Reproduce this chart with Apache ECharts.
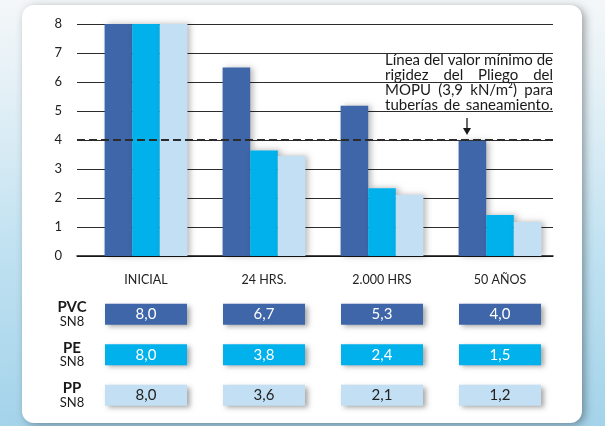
<!DOCTYPE html>
<html><head><meta charset="utf-8">
<script src="https://cdn.jsdelivr.net/npm/echarts@6/dist/echarts.min.js"></script>
<style>html,body{margin:0;padding:0;background:#fff;}#c{width:605px;height:426px;}</style>
</head><body><div id="c"></div>
<script>
const categories = ['INICIAL', '24 HRS.', '2.000 HRS', '50 AÑOS'];
const yTicks = [0, 1, 2, 3, 4, 5, 6, 7, 8];
const pvcBars = [8, 6.5, 5.18, 3.97];
const peBars = [8, 3.64, 2.34, 1.41];
const ppBars = [8, 3.45, 2.1, 1.17];
const materials = ['PVC', 'PE', 'PP'];
const materialSub = 'SN8';
const pvcTable = ['8,0', '6,7', '5,3', '4,0'];
const peTable = ['8,0', '3,8', '2,4', '1,5'];
const ppTable = ['8,0', '3,6', '2,1', '1,2'];
const minLineValue = 4;
const noteLines = ['Línea del valor mínimo de', 'rigidez del Pliego del', 'MOPU (3,9 kN/m²) para', 'tuberías de saneamiento.'];

const FONT = 'Lato, "Open Sans", sans-serif';
const C_PVC = '#3e66a9', C_PE = '#00b1ec', C_PP = '#c3dff3';

const chart = echarts.init(document.getElementById('c'), null, {renderer: 'canvas'});

// justified note text
const noteFontSize = 15;
const ctx = document.createElement('canvas').getContext('2d');
ctx.font = noteFontSize + 'px Lato';
const noteLeft = 385, noteRight = 553, noteTop = 60.5, noteStep = 15;
const noteEls = [];
noteLines.forEach((line, li) => {
  const words = line.split(' ');
  const widths = words.map(w => ctx.measureText(w).width);
  const total = widths.reduce((a, b) => a + b, 0);
  const gap = words.length > 1 ? (noteRight - noteLeft - total) / (words.length - 1) : 0;
  let x = noteLeft;
  words.forEach((w, wi) => {
    noteEls.push({type: 'text', z: 100, x: x, y: noteTop + li * noteStep,
      style: {text: w, fill: '#1a1a1a', font: noteFontSize + 'px Lato', verticalAlign: 'middle'}});
    x += widths[wi] + gap;
  });
});

const tableSeries = [[pvcTable, C_PVC, '#fff'], [peTable, C_PE, '#fff'], [ppTable, C_PP, '#222']].map((t, mi) => ({
  type: 'scatter', xAxisIndex: 2, yAxisIndex: 2, symbol: 'rect', symbolSize: [82, 21],
  data: t[0].map((v, i) => [i, mi]),
  itemStyle: {color: t[1], opacity: 1, shadowBlur: 5, shadowColor: 'rgba(0,0,0,0.35)', shadowOffsetX: 3, shadowOffsetY: 2},
  label: {show: true, position: 'inside', color: t[2], fontSize: 15, fontFamily: FONT,
    formatter: p => t[0][p.dataIndex]},
  emphasis: {disabled: true}, silent: true, z: 3
}));

const barStyle = c => ({color: c, shadowBlur: 6, shadowColor: 'rgba(0,0,0,0.28)', shadowOffsetX: 3, shadowOffsetY: 0});

chart.setOption({
  animation: false,
  graphic: [
    {type: 'rect', z: -100, shape: {x: 0, y: 0, width: 605, height: 426},
      style: {fill: new echarts.graphic.LinearGradient(0, 0, 0, 1, [
        {offset: 0, color: '#f4f7f9'}, {offset: 0.3, color: '#dcedf5'}, {offset: 0.6, color: '#bfe1f1'}, {offset: 1, color: '#a4d3ea'}])}},
    {type: 'rect', z: -90, shape: {x: 22, y: 5, width: 560, height: 418, r: 12},
      style: {fill: '#fff', shadowBlur: 8, shadowColor: 'rgba(0,0,0,0.35)', shadowOffsetX: 3, shadowOffsetY: 2}},
    ...noteEls,
    {type: 'line', z: 100, shape: {x1: 467, y1: 118, x2: 467, y2: 130}, style: {stroke: '#1a1a1a', lineWidth: 1.3}},
    {type: 'polygon', z: 100, shape: {points: [[463, 128], [471, 128], [467, 135]]}, style: {fill: '#1a1a1a'}}
  ],
  grid: [
    {left: 87, right: 46, top: 24, bottom: 170},
    {left: 77, right: 52, top: 24, bottom: 170},
    {left: 87, right: 46, top: 294, height: 121.5}
  ],
  xAxis: [
    {type: 'category', gridIndex: 0, data: categories, axisLine: {show: false}, axisTick: {show: false},
      axisLabel: {color: '#222', fontSize: 12.5, fontFamily: FONT, margin: 17}},
    {type: 'value', gridIndex: 1, min: 0, max: 1, axisLine: {show: true, onZero: false, lineStyle: {color: '#111', width: 1.5}},
      axisTick: {show: false}, axisLabel: {show: false}, splitLine: {show: false}},
    {type: 'category', gridIndex: 2, data: categories, show: false}
  ],
  yAxis: [
    {type: 'value', gridIndex: 0, min: 0, max: 8, interval: 1, show: false},
    {type: 'value', gridIndex: 1, min: yTicks[0], max: yTicks[yTicks.length - 1], interval: 1,
      axisLine: {show: false}, axisTick: {show: false},
      axisLabel: {color: '#222', fontSize: 13, fontFamily: FONT, margin: 15},
      splitLine: {show: true, lineStyle: {color: '#2b2b2b', width: 1.2}}},
    {type: 'category', gridIndex: 2, data: materials, inverse: true, axisLine: {show: false}, axisTick: {show: false},
      axisLabel: {align: 'center', margin: 15, formatter: v => '{a|' + v + '}\n{b|' + materialSub + '}',
        rich: {a: {fontSize: 15, fontWeight: 'bold', color: '#1a1a1a', fontFamily: FONT, lineHeight: 15, align: 'center'},
               b: {fontSize: 13, color: '#1a1a1a', fontFamily: FONT, lineHeight: 14, align: 'center'}}}}
  ],
  series: [
    {name: 'PVC', type: 'bar', xAxisIndex: 0, yAxisIndex: 0, data: pvcBars, barWidth: 27.6, barGap: '0%', itemStyle: barStyle(C_PVC), z: 2, silent: true},
    {name: 'PE', type: 'bar', xAxisIndex: 0, yAxisIndex: 0, data: peBars, barWidth: 27.6, barGap: '0%', itemStyle: barStyle(C_PE), z: 2, silent: true},
    {name: 'PP', type: 'bar', xAxisIndex: 0, yAxisIndex: 0, data: ppBars, barWidth: 27.6, barGap: '0%', itemStyle: barStyle(C_PP), z: 2, silent: true},
    {type: 'line', xAxisIndex: 1, yAxisIndex: 1, data: [[0, minLineValue], [1, minLineValue]], symbol: 'none', z: 10, silent: true,
      lineStyle: {color: '#2b2b2b', width: 2, type: [8, 4]}},
    ...tableSeries
  ]
});
</script></body></html>
